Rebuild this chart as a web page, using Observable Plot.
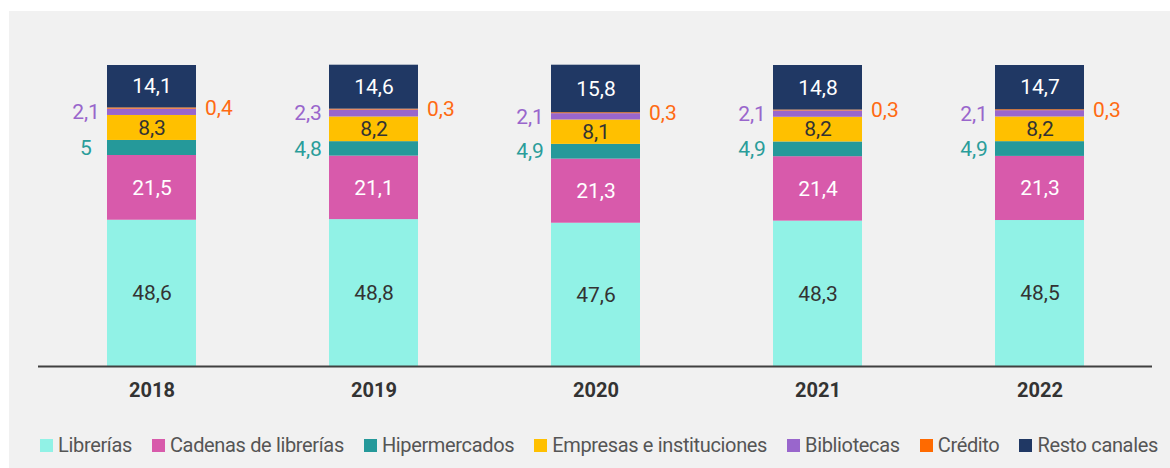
<!DOCTYPE html>
<html>
<head>
<meta charset="utf-8">
<script src="https://cdn.jsdelivr.net/npm/d3@7"></script>
<script src="https://cdn.jsdelivr.net/npm/@observablehq/plot@0.6"></script>
<style>
  html, body { margin: 0; padding: 0; background: #ffffff; }
  body { width: 1170px; height: 468px; position: relative; overflow: hidden; font-family: Roboto, "Noto Sans", sans-serif; }
  #bg { position: absolute; left: 9px; top: 11px; width: 1161px; height: 457px; background: #f1f1f1; }
  #chart { position: absolute; left: 0; top: 0; }
  #legend { position: absolute; left: 14px; top: 433px; width: 1170px; display: flex; justify-content: center; align-items: center; gap: 20px; font-size: 20px; color: #555; letter-spacing: -0.35px; }
  .item { display: flex; align-items: center; white-space: nowrap; }
  .sw { width: 13px; height: 13px; margin-right: 5px; display: inline-block; }
</style>
</head>
<body>
<div id="bg"></div>
<div id="chart"></div>
<div id="legend"></div>
<script>
const years = ["2018", "2019", "2020", "2021", "2022"];
const categories = ["Librerías", "Cadenas de librerías", "Hipermercados", "Empresas e instituciones", "Bibliotecas", "Crédito", "Resto canales"];
const colors = ["#91f2e6", "#d85aab", "#25999a", "#ffc000", "#9966cc", "#ff6a00", "#203864"];

const librerias = [48.6, 48.8, 47.6, 48.3, 48.5];
const cadenas = [21.5, 21.1, 21.3, 21.4, 21.3];
const hipermercados = [5, 4.8, 4.9, 4.9, 4.9];
const empresas = [8.3, 8.2, 8.1, 8.2, 8.2];
const bibliotecas = [2.1, 2.3, 2.1, 2.1, 2.1];
const credito = [0.4, 0.3, 0.3, 0.3, 0.3];
const resto = [14.1, 14.6, 15.8, 14.8, 14.7];

const series = [librerias, cadenas, hipermercados, empresas, bibliotecas, credito, resto];

const rows = [];
years.forEach((yr, i) => {
  let acc = 0;
  series.forEach((s, k) => {
    const v = s[i];
    rows.push({year: yr, cat: categories[k], value: v, y1: acc, y2: acc + v, mid: acc + v / 2, label: String(v).replace(".", ",")});
    acc += v;
  });
});

const inside = rows.filter(d => ["Librerías", "Cadenas de librerías", "Empresas e instituciones", "Resto canales"].includes(d.cat));
const insideColor = {"Librerías": "#333333", "Cadenas de librerías": "#ffffff", "Empresas e instituciones": "#333333", "Resto canales": "#ffffff"};
const left = rows.filter(d => d.cat === "Hipermercados" || d.cat === "Bibliotecas");
const leftColor = {"Hipermercados": "#2a9d9a", "Bibliotecas": "#9966cc"};
const right = rows.filter(d => d.cat === "Crédito");

const plot = Plot.plot({
  width: 1170,
  height: 415,
  marginTop: 65,
  marginBottom: 49,
  marginLeft: 38,
  marginRight: 18,
  style: {background: "transparent", fontFamily: "Roboto, sans-serif"},
  x: {domain: years, paddingInner: 0.6, paddingOuter: 0.3, label: null, tickSize: 0, tickPadding: 16},
  y: {domain: [0, 100], axis: null},
  color: {domain: categories, range: colors},
  marks: [
    Plot.barY(rows, {x: "year", y1: "y1", y2: "y2", fill: "cat"}),
    Plot.text(inside, {x: "year", y: "mid", text: "label", fill: d => insideColor[d.cat], fontSize: 21}),
    Plot.text(left, {x: "year", y: "mid", text: "label", fill: d => leftColor[d.cat], fontSize: 21, dx: -66, textAnchor: "middle"}),
    Plot.text(right, {x: "year", y: "mid", text: "label", fill: "#ff6a13", fontSize: 21, dx: 53, textAnchor: "start"}),
    Plot.ruleY([0], {stroke: "#404040", strokeWidth: 2}),
    Plot.axisX({tickSize: 0, tickPadding: 16, fontSize: 20, fontWeight: "bold", fill: "#333", label: null})
  ]
});
document.getElementById("chart").appendChild(plot);

const legend = document.getElementById("legend");
categories.forEach((c, k) => {
  const it = document.createElement("div");
  it.className = "item";
  const sw = document.createElement("span");
  sw.className = "sw";
  sw.style.background = colors[k];
  const t = document.createElement("span");
  t.textContent = c;
  it.appendChild(sw);
  it.appendChild(t);
  legend.appendChild(it);
});
</script>
</body>
</html>
